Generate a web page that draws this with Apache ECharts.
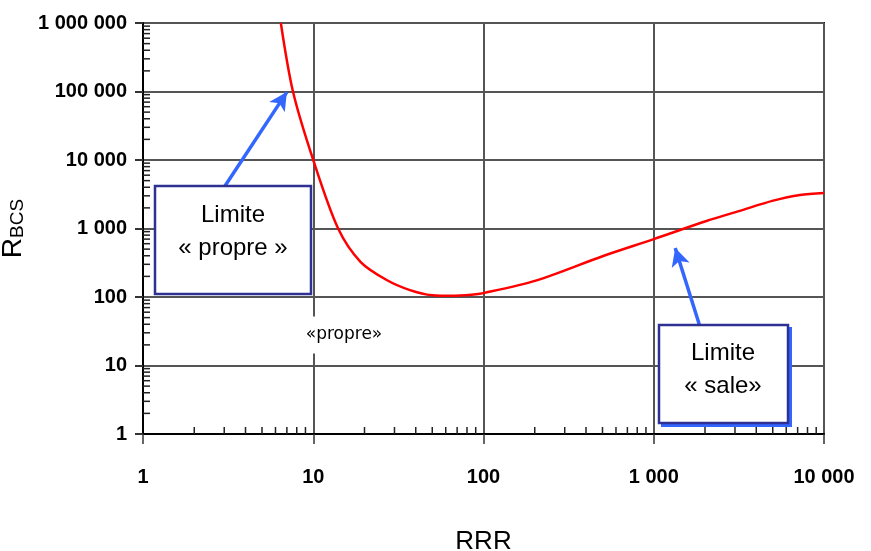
<!DOCTYPE html>
<html>
<head>
<meta charset="utf-8">
<script src="https://cdn.jsdelivr.net/npm/echarts@6/dist/echarts.min.js"></script>
<style>
  html, body { margin: 0; padding: 0; background: #fff; }
  #main { width: 871px; height: 551px; }
</style>
</head>
<body>
<div id="main"></div>
<script>
var chartDom = document.getElementById('main');
var myChart = echarts.init(chartDom, null, { renderer: 'canvas' });

// curve (RRR, R_BCS)
var rrr = [6.45, 7.6, 10, 14, 19, 27, 37, 50, 65, 85, 100, 205, 500, 1000, 2040, 3200, 5030, 7220, 10000];
var rbcs = [1000000, 100000, 10000, 1000, 324, 177, 126, 106, 104, 108, 114, 175, 394, 700, 1285, 1810, 2550, 3090, 3300];

// log minor ticks
var xDecades = [1, 10, 100, 1000];
var yDecades = [1, 10, 100, 1000, 10000, 100000];
var minorSteps = [2, 3, 4, 5, 6, 7, 8, 9];

// arrows: [from, to]
var arrowPropre = [[3.03, 4170], [7.0, 98000]];
var arrowSale = [[1850, 40], [1337, 519]];

var sans = '"Liberation Sans", Arial, sans-serif';
var blue = '#3366ff';
var navy = '#2e3192';

function fmt(v) {
    return String(Math.round(v)).replace(/\B(?=(\d{3})+(?!\d))/g, ' ');
}

var curve = rrr.map(function (x, i) { return [x, rbcs[i]]; });

var xMinor = [];
xDecades.forEach(function (d) {
    minorSteps.forEach(function (s) { xMinor.push([d * s, 1]); });
});
var yMinor = [];
yDecades.forEach(function (d) {
    minorSteps.forEach(function (s) { yMinor.push([1, d * s]); });
});

function tickRender(dx, dy) {
    return function (params, api) {
        var p = api.coord([api.value(0), api.value(1)]);
        return {
            type: 'line',
            shape: { x1: p[0], y1: p[1], x2: p[0] + dx, y2: p[1] + dy },
            style: { stroke: '#222', lineWidth: 1.5 }
        };
    };
}

var option = {
    animation: false,
    grid: {
        left: 143, right: 47, top: 23, bottom: 117,
        outerBoundsMode: 'none', containLabel: false,
        show: true, borderColor: '#1a1a1a', borderWidth: 2
    },
    xAxis: {
        type: 'log', logBase: 10, min: 1, max: 10000,
        name: 'RRR', nameLocation: 'middle', nameGap: 95,
        nameTextStyle: { fontFamily: sans, fontSize: 26, color: '#000' },
        axisLine: { lineStyle: { color: '#000', width: 2 } },
        axisTick: { show: true, inside: false, length: 10, lineStyle: { color: '#333', width: 1.5 } },
        axisLabel: { margin: 33, fontFamily: sans, fontWeight: 'bold', fontSize: 20, color: '#000', formatter: fmt },
        splitLine: { show: true, lineStyle: { color: '#555', width: 2 } }
    },
    yAxis: {
        type: 'log', logBase: 10, min: 1, max: 1000000, splitNumber: 6,
        name: '{r|R}{s|BCS}', nameLocation: 'middle', nameGap: 92, nameRotate: 90,
        nameTextStyle: {
            rich: {
                r: { fontFamily: sans, fontSize: 28, color: '#000', verticalAlign: 'top', lineHeight: 28 },
                s: { fontFamily: sans, fontSize: 19, color: '#000', verticalAlign: 'bottom', lineHeight: 19, padding: [14, 0, 0, 0] }
            }
        },
        axisLine: { lineStyle: { color: '#000', width: 2 } },
        axisTick: { show: true, inside: false, length: 8, lineStyle: { color: '#333', width: 2 } },
        axisLabel: { margin: 16, fontFamily: sans, fontWeight: 'bold', fontSize: 20, color: '#000', formatter: fmt },
        splitLine: { show: true, lineStyle: { color: '#555', width: 2 } }
    },
    series: [
        {
            type: 'custom', data: xMinor, renderItem: tickRender(0, -7),
            silent: true, clip: false, z: 3
        },
        {
            type: 'custom', data: yMinor, renderItem: tickRender(7, 0),
            silent: true, clip: false, z: 3
        },
        {
            type: 'line', data: curve, smooth: 0.3, showSymbol: false,
            lineStyle: { color: '#ff0000', width: 2.5 }, z: 4,
            markLine: {
                silent: true, animation: false,
                symbol: ['none', 'arrow'], symbolSize: [14, 18],
                label: { show: false },
                lineStyle: { color: blue, width: 3.5, type: 'solid' },
                data: [
                    [{ coord: arrowPropre[0] }, { coord: arrowPropre[1] }],
                    [{ coord: arrowSale[0] }, { coord: arrowSale[1] }]
                ]
            }
        }
    ],
    graphic: [
        {
            type: 'rect', z: 100,
            shape: { x: 155, y: 186, width: 156, height: 108 },
            style: { fill: '#fff', stroke: navy, lineWidth: 2.5 }
        },
        {
            type: 'text', z: 101, x: 233, y: 232,
            style: { text: 'Limite\n« propre »', fill: '#000', font: '24px ' + sans, align: 'center', verticalAlign: 'middle', lineHeight: 33 }
        },
        {
            type: 'rect', z: 99,
            shape: { x: 662, y: 328, width: 129, height: 98 },
            style: { fill: blue, stroke: blue, lineWidth: 2 }
        },
        {
            type: 'rect', z: 100,
            shape: { x: 659, y: 325, width: 129, height: 98 },
            style: { fill: '#fff', stroke: navy, lineWidth: 2.5 }
        },
        {
            type: 'text', z: 101, x: 723, y: 370,
            style: { text: 'Limite\n« sale»', fill: '#000', font: '24px ' + sans, align: 'center', verticalAlign: 'middle', lineHeight: 33 }
        },
        {
            type: 'text', z: 101, x: 344, y: 335,
            style: {
                text: '«propre»', fill: '#000', font: '17px "DejaVu Sans", sans-serif',
                align: 'center', verticalAlign: 'middle',
                backgroundColor: '#fff', padding: [10, 4, 10, 4]
            }
        }
    ]
};

option && myChart.setOption(option);
</script>
</body>
</html>
